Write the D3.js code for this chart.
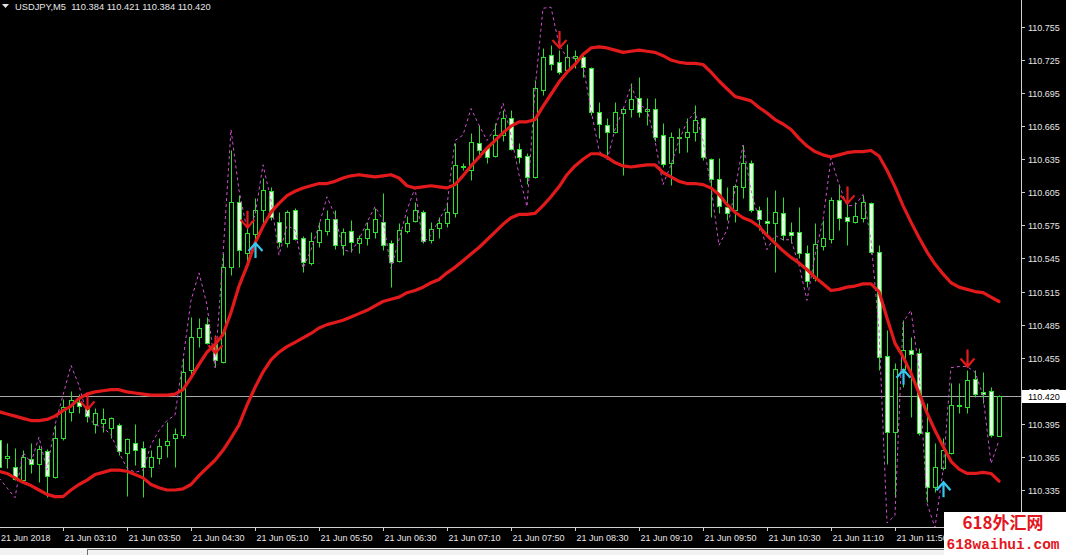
<!DOCTYPE html>
<html><head><meta charset="utf-8">
<script src="https://cdn.jsdelivr.net/npm/d3@7"></script>
<style>html,body{margin:0;padding:0;background:#000;overflow:hidden}svg{display:block}</style>
</head><body>
<svg id="c" width="1066" height="555"></svg>
<script>
// ---------------- data ----------------
const symbolTitle = "USDJPY,M5  110.384 110.421 110.384 110.420";
const lastPrice = 110.420;
const priceTicks = [110.335,110.365,110.395,110.425,110.455,110.485,110.515,110.545,110.575,110.605,110.635,110.665,110.695,110.725,110.755];
const timeLabels = ["21 Jun 2018","21 Jun 03:10","21 Jun 03:50","21 Jun 04:30","21 Jun 05:10","21 Jun 05:50","21 Jun 06:30","21 Jun 07:10","21 Jun 07:50","21 Jun 08:30","21 Jun 09:10","21 Jun 09:50","21 Jun 10:30","21 Jun 11:10","21 Jun 11:50"];
const timeLabelBar = [0,8,16,24,32,40,48,56,64,72,80,88,96,104,112];

const open = [
110.380,110.364,110.356,110.344,110.363,110.359,110.370,110.347,110.382,110.406,
110.415,110.410,110.395,110.396,110.391,110.394,110.369,110.378,110.373,110.356,
110.364,110.376,110.382,110.385,110.444,110.474,110.486,110.467,110.451,110.537,
110.596,110.550,110.567,110.589,110.606,110.578,110.559,110.589,110.564,110.541,
110.560,110.570,110.581,110.557,110.570,110.559,110.564,110.569,110.578,110.559,
110.543,110.570,110.579,110.587,110.562,110.573,110.577,110.586,110.629,110.625,
110.650,110.645,110.638,110.657,110.672,110.644,110.638,110.619,110.698,110.730,
110.723,110.716,110.727,110.728,110.718,110.678,110.666,110.660,110.677,110.681,
110.691,110.679,110.681,110.657,110.632,110.654,110.655,110.660,110.672,110.635,
110.617,110.592,110.589,110.610,110.632,110.589,110.579,110.577,110.586,110.569,
110.569,110.550,110.527,110.556,110.563,110.598,110.583,110.578,110.582,110.595,
110.551,110.457,110.388,110.445,110.462,110.459,110.388,110.338,110.355,110.369,
110.411,110.410,110.436,110.424,110.425,110.384];
const high = [
110.384,110.378,110.373,110.371,110.378,110.376,110.372,110.394,110.418,110.425,
110.422,110.414,110.409,110.409,110.401,110.396,110.382,110.395,110.379,110.371,
110.382,110.397,110.391,110.455,110.492,110.491,110.492,110.476,110.550,110.643,
110.603,110.582,110.600,110.618,110.610,110.587,110.589,110.591,110.565,110.569,
110.578,110.589,110.589,110.573,110.580,110.566,110.578,110.591,110.604,110.562,
110.577,110.584,110.596,110.589,110.578,110.583,110.596,110.650,110.632,110.659,
110.666,110.646,110.668,110.680,110.680,110.650,110.641,110.707,110.736,110.739,
110.734,110.740,110.734,110.732,110.719,110.687,110.672,110.687,110.682,110.704,
110.710,110.691,110.691,110.668,110.660,110.663,110.672,110.684,110.673,110.636,
110.636,110.610,110.613,110.648,110.634,110.593,110.601,110.607,110.601,110.578,
110.592,110.557,110.577,110.580,110.601,110.613,110.596,110.596,110.603,110.596,
110.557,110.480,110.450,110.489,110.474,110.464,110.414,110.378,110.382,110.432,
110.432,110.444,110.444,110.442,110.428,110.421];
const low = [
110.353,110.355,110.344,110.343,110.350,110.342,110.329,110.346,110.380,110.398,
110.405,110.397,110.387,110.388,110.382,110.367,110.330,110.358,110.329,110.347,
110.359,110.365,110.356,110.382,110.439,110.465,110.467,110.447,110.450,110.530,
110.537,110.542,110.562,110.577,110.580,110.555,110.555,110.562,110.533,110.539,
110.555,110.566,110.554,110.548,110.551,110.550,110.557,110.564,110.553,110.519,
110.542,110.568,110.578,110.559,110.559,110.564,110.574,110.583,110.625,110.616,
110.639,110.632,110.637,110.652,110.643,110.632,110.613,110.618,110.693,110.716,
110.712,110.714,110.718,110.710,110.675,110.654,110.639,110.659,110.621,110.673,
110.673,110.666,110.652,110.628,110.612,110.641,110.642,110.652,110.634,110.583,
110.586,110.580,110.578,110.600,110.587,110.571,110.566,110.533,110.562,110.559,
110.545,110.519,110.525,110.553,110.559,110.571,110.557,110.577,110.578,110.549,
110.444,110.359,110.329,110.428,110.401,110.385,110.324,110.333,110.353,110.368,
110.405,110.405,110.419,110.414,110.383,110.384];
const close = [
110.356,110.366,110.345,110.365,110.359,110.372,110.348,110.382,110.410,110.417,
110.411,110.402,110.405,110.399,110.400,110.370,110.381,110.371,110.356,110.365,
110.375,110.379,110.386,110.442,110.474,110.482,110.468,110.453,110.537,110.596,
110.553,110.568,110.589,110.607,110.583,110.560,110.587,110.563,110.542,110.561,
110.571,110.581,110.557,110.569,110.560,110.564,110.572,110.581,110.557,110.542,
110.571,110.577,110.589,110.561,110.572,110.577,110.587,110.630,110.628,110.651,
110.643,110.637,110.657,110.672,110.644,110.637,110.619,110.700,110.728,110.721,
110.714,110.728,110.729,110.719,110.678,110.667,110.660,110.678,110.681,110.690,
110.678,110.681,110.655,110.631,110.655,110.655,110.660,110.671,110.637,110.617,
110.593,110.586,110.611,110.632,110.589,110.581,110.577,110.587,110.566,110.566,
110.550,110.525,110.558,110.564,110.598,110.582,110.579,110.584,110.596,110.551,
110.456,110.388,110.445,110.462,110.458,110.387,110.338,110.356,110.371,110.412,
110.412,110.435,110.422,110.422,110.385,110.420];
const upperBand = [
110.406,110.404,110.402,110.400,110.398,110.398,110.399,110.402,110.407,110.411,
110.418,110.422,110.424,110.425,110.426,110.426,110.424,110.423,110.422,110.421,
110.421,110.421,110.422,110.426,110.437,110.449,110.460,110.467,110.476,110.496,
110.520,110.538,110.559,110.574,110.587,110.595,110.602,110.606,110.609,110.611,
110.613,110.613,110.615,110.618,110.620,110.621,110.620,110.619,110.620,110.621,
110.618,110.611,110.609,110.610,110.611,110.610,110.609,110.612,110.620,110.629,
110.637,110.645,110.652,110.659,110.665,110.669,110.669,110.671,110.683,110.694,
110.705,110.714,110.721,110.730,110.736,110.737,110.736,110.734,110.732,110.733,
110.734,110.733,110.732,110.729,110.725,110.723,110.722,110.722,110.721,110.714,
110.706,110.699,110.692,110.690,110.688,110.682,110.677,110.671,110.667,110.662,
110.654,110.647,110.642,110.639,110.637,110.639,110.641,110.642,110.642,110.643,
110.638,110.625,110.610,110.593,110.578,110.564,110.551,110.540,110.531,110.523,
110.519,110.517,110.515,110.514,110.510,110.506];
const lowerBand = [
110.352,110.350,110.346,110.342,110.339,110.335,110.331,110.329,110.329,110.335,
110.340,110.344,110.349,110.351,110.353,110.353,110.352,110.349,110.346,110.340,
110.337,110.335,110.335,110.336,110.340,110.348,110.355,110.362,110.371,110.382,
110.394,110.412,110.428,110.442,110.453,110.460,110.465,110.469,110.473,110.477,
110.482,110.485,110.487,110.489,110.492,110.495,110.498,110.502,110.506,110.508,
110.510,110.514,110.516,110.519,110.523,110.526,110.532,110.537,110.543,110.549,
110.555,110.562,110.569,110.576,110.582,110.585,110.585,110.586,110.593,110.601,
110.610,110.621,110.629,110.635,110.640,110.640,110.637,110.632,110.629,110.628,
110.629,110.630,110.630,110.623,110.619,110.615,110.613,110.613,110.612,110.609,
110.603,110.594,110.587,110.582,110.579,110.574,110.566,110.559,110.552,110.546,
110.541,110.535,110.528,110.522,110.516,110.517,110.519,110.520,110.522,110.522,
110.515,110.491,110.468,110.456,110.441,110.423,110.405,110.389,110.375,110.361,
110.354,110.350,110.350,110.351,110.350,110.343];
const signalLine = [
110.346,110.337,110.328,110.369,110.360,110.383,110.353,110.394,110.421,110.448,
110.430,110.403,110.394,110.392,110.385,110.369,110.355,110.351,110.353,110.376,
110.389,110.398,110.403,110.453,110.507,110.532,110.503,110.446,110.548,110.662,
110.607,110.571,110.584,110.630,110.598,110.548,110.575,110.571,110.536,110.553,
110.575,110.601,110.584,110.553,110.551,110.562,110.578,110.592,110.580,110.536,
110.562,110.589,110.609,110.559,110.566,110.580,110.593,110.652,110.657,110.681,
110.666,110.652,110.663,110.686,110.657,110.621,110.592,110.698,110.772,110.773,
110.739,110.727,110.727,110.720,110.680,110.643,110.634,110.662,110.680,110.702,
110.684,110.681,110.652,110.612,110.630,110.652,110.669,110.678,110.652,110.610,
110.557,110.571,110.607,110.648,110.607,110.580,110.553,110.566,110.562,110.562,
110.539,110.507,110.548,110.580,110.636,110.612,110.593,110.593,110.603,110.562,
110.480,110.305,110.312,110.487,110.498,110.444,110.323,110.301,110.353,110.446,
110.447,110.447,110.442,110.421,110.359,110.380];
const downArrowBar = [11,27,31,70,106,121];
const downArrowPrice = [110.408,110.459,110.573,110.736,110.595,110.447];
const upArrowBar = [32,113,118];
const upArrowPrice = [110.559,110.444,110.342];

// ---------------- drawing ----------------
const W = 1066, H = 555, plotR = 1021, plotB = 527;
const GREEN = "#2ee02e", BEARFILL = "#e4ffe4", RED = "#e31a1c", CYAN = "#35c8ef", MAG = "#d050d0", TXT = "#e6e6e6";
const FONT = "Liberation Sans, Arial, sans-serif";
const svg = d3.select("#c");
svg.append("rect").attr("width", W).attr("height", H).attr("fill", "#000");
const defs = svg.append("defs");
defs.append("clipPath").attr("id", "clip")
  .append("rect").attr("x", 0).attr("y", 0).attr("width", plotR).attr("height", plotB);

const x = d3.scaleLinear().domain([0, 125]).range([-1, 999]);
const y = d3.scaleLinear().domain([110.335, 110.755]).range([490, 27]);
const px = v => Math.round(x(v)) + 0.5;
const py = v => Math.round(y(v)) + 0.5;

const g = svg.append("g").attr("clip-path", "url(#clip)");

// current price line
g.append("line").attr("x1", 0).attr("x2", plotR).attr("y1", py(lastPrice)).attr("y2", py(lastPrice))
  .attr("stroke", "#a8a8a8").attr("stroke-width", 1);

// candles
const bars = d3.range(open.length).map(i => ({i, o: open[i], h: high[i], l: low[i], c: close[i]}));
const cg = g.append("g");
cg.selectAll("line.wick").data(bars).join("line").attr("class", "wick")
  .attr("x1", d => px(d.i)).attr("x2", d => px(d.i))
  .attr("y1", d => py(d.h)).attr("y2", d => py(d.l))
  .attr("stroke", GREEN).attr("stroke-width", 1);
cg.selectAll("rect.body").data(bars).join("rect").attr("class", "body")
  .attr("x", d => px(d.i) - 2)
  .attr("width", 4)
  .attr("y", d => py(Math.max(d.o, d.c)))
  .attr("height", d => Math.max(0, py(Math.min(d.o, d.c)) - py(Math.max(d.o, d.c))))
  .attr("fill", d => d.c >= d.o ? "#000" : BEARFILL)
  .attr("stroke", GREEN).attr("stroke-width", 1);

// dashed signal line
g.append("path").datum(signalLine)
  .attr("d", d3.line().x((d, i) => x(i)).y(d => y(d)))
  .attr("fill", "none").attr("stroke", MAG).attr("stroke-width", 1).attr("stroke-dasharray", "3,3");

// bands
[upperBand, lowerBand].forEach(arr => {
  g.append("path").datum(arr)
    .attr("d", d3.line().x((d, i) => x(i)).y(d => y(d)))
    .attr("fill", "none").attr("stroke", RED).attr("stroke-width", 3.2)
    .attr("stroke-linejoin", "round").attr("stroke-linecap", "round");
});

// arrows
downArrowBar.forEach((b, k) => {
  const cx = px(b), ty = y(downArrowPrice[k]);
  g.append("path").attr("d", `M${cx},${ty - 17}L${cx},${ty}M${cx - 7},${ty - 8}L${cx},${ty}L${cx + 7},${ty - 8}`)
    .attr("fill", "none").attr("stroke", RED).attr("stroke-width", 2.2).attr("stroke-linejoin", "miter");
});
upArrowBar.forEach((b, k) => {
  const cx = px(b), ty = y(upArrowPrice[k]);
  g.append("path").attr("d", `M${cx},${ty + 15}L${cx},${ty}M${cx - 7},${ty + 8}L${cx},${ty}L${cx + 7},${ty + 8}`)
    .attr("fill", "none").attr("stroke", CYAN).attr("stroke-width", 2.2).attr("stroke-linejoin", "miter");
});

// axes frame
svg.append("line").attr("x1", plotR + 0.5).attr("x2", plotR + 0.5).attr("y1", 0).attr("y2", plotB + 4)
  .attr("stroke", "#d0d0d0").attr("stroke-width", 1);
svg.append("line").attr("x1", 0).attr("x2", plotR + 1).attr("y1", plotB + 0.5).attr("y2", plotB + 0.5)
  .attr("stroke", "#d0d0d0").attr("stroke-width", 1);

// price axis
const ly = py(lastPrice);
defs.append("clipPath").attr("id", "aboveBox")
  .append("rect").attr("x", plotR).attr("y", 0).attr("width", W - plotR).attr("height", ly - 6.5);
const ya = svg.append("g");
priceTicks.forEach(t => {
  const yy = py(t);
  const hidden = Math.abs(yy - ly) < 13;
  ya.append("line").attr("x1", plotR).attr("x2", plotR + 4).attr("y1", yy).attr("y2", yy).attr("stroke", "#d0d0d0");
  const tx = ya.append("text").attr("x", plotR + 7).attr("y", yy + 3.5).text(t.toFixed(3))
    .attr("fill", TXT).attr("font-family", FONT).attr("font-size", "9px");
  if (hidden) tx.attr("clip-path", "url(#aboveBox)");
});
// last price box
svg.append("rect").attr("x", plotR + 1).attr("y", ly - 6.5).attr("width", W - plotR - 1).attr("height", 13).attr("fill", "#fff");
svg.append("text").attr("x", plotR + 7).attr("y", ly + 3.5).text(lastPrice.toFixed(3))
  .attr("fill", "#000").attr("font-family", FONT).attr("font-size", "9px");

// time axis
timeLabels.forEach((t, k) => {
  const xx = px(timeLabelBar[k]);
  svg.append("line").attr("x1", xx).attr("x2", xx).attr("y1", plotB).attr("y2", plotB + 4).attr("stroke", "#d0d0d0");
  svg.append("text").attr("x", Math.max(1, xx + 1)).attr("y", 541).text(t)
    .attr("fill", TXT).attr("font-family", FONT).attr("font-size", "9px");
});

// header
svg.append("path").attr("d", "M2,4L9,4L5.5,8Z").attr("fill", "#e6e6e6");
svg.append("text").attr("x", 15).attr("y", 10).text(symbolTitle)
  .style("white-space", "pre")
  .attr("fill", TXT).attr("font-family", FONT).attr("font-size", "9.3px");

// bottom tab strip
svg.append("rect").attr("x", 0).attr("y", 548).attr("width", W).attr("height", 7).attr("fill", "#f2f2f2");
svg.append("line").attr("x1", 88).attr("x2", W).attr("y1", 549.5).attr("y2", 549.5).attr("stroke", "#707070");
svg.append("line").attr("x1", 87.5).attr("x2", 87.5).attr("y1", 549).attr("y2", 555).attr("stroke", "#707070");

// watermark
svg.append("rect").attr("x", 944).attr("y", 512).attr("width", W - 944).attr("height", H - 512).attr("fill", "#fff");
svg.append("text").attr("x", 1003).attr("y", 529).attr("text-anchor", "middle").text("618外汇网")
  .attr("fill", "#e2161c").attr("font-family", "Noto Sans CJK SC, sans-serif").attr("font-size", "17px").attr("font-weight", "bold");
svg.append("text").attr("x", 1003).attr("y", 549).attr("text-anchor", "middle").text("618waihui.com")
  .attr("fill", "#e2161c").attr("font-family", "Liberation Mono, DejaVu Sans Mono, monospace").attr("font-size", "14.5px").attr("font-weight", "bold");
</script>
</body></html>
